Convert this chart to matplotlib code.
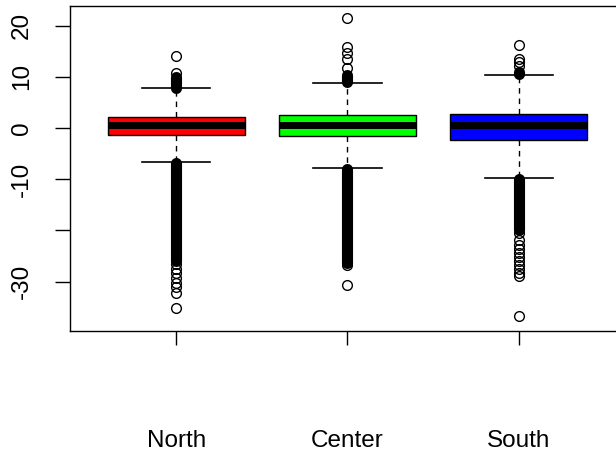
"""Boxplot of three regions, R base-graphics look, redrawn with matplotlib
"""
import matplotlib
matplotlib.use("Agg")
import matplotlib.pyplot as plt

plt.rcParams['font.family'] = ['Liberation Sans', 'DejaVu Sans']

# values
regions = ["North", "Center", "South"]
box_colors = ["#FF0000", "#00FF00", "#0000FF"]
medians = [0.49, 0.51, 0.59]
q1s = [-1.45, -1.64, -2.29]
q3s = [2.07, 2.54, 2.80]
whisker_lo = [-6.65, -7.82, -9.78]
whisker_hi = [7.82, 8.80, 10.40]

# single outliers that can be told apart
north_out = [10.8, 14.1, -26.5, -27.5, -28.4, -29.3, -30.2, -31.0, -32.2, -35.2]
center_out = [11.7, 13.4, 14.6, 15.8, 21.4, -26.7, -30.75]
south_out = [12.1, 12.8, 13.4, 16.3, -20.5, -21.8, -22.8, -23.6, -24.4,
             -25.2, -26.0, -26.8, -27.6, -28.3, -29.0, -36.8]
outliers = [north_out, center_out, south_out]

# runs of outliers so dense they print as a solid black bar (lo, hi)
north_dense = [(7.9, 10.0), (-26.0, -6.8)]
center_dense = [(8.9, 10.4), (-26.4, -7.95)]
south_dense = [(10.5, 11.0), (-20.0, -9.95)]
dense = [north_dense, center_dense, south_dense]

ytick_vals = [-30, -20, -10, 0, 10, 20]
ytick_text = ["-30", "", "-10", "0", "10", "20"]

positions = [1, 2, 3]
stats = []
for i in range(len(regions)):
    stats.append(dict(med=medians[i], q1=q1s[i], q3=q3s[i],
                      whislo=whisker_lo[i], whishi=whisker_hi[i],
                      fliers=outliers[i], label=regions[i]))

fig = plt.figure(figsize=(6.16, 4.54), dpi=100)
ax = fig.add_axes([70 / 616, 123 / 454, 555 / 616, 325 / 454])

for pos, runs in zip(positions, dense):
    for lo, hi in runs:
        ax.plot([pos, pos], [lo, hi], color="black", lw=8,
                solid_capstyle="round", zorder=2)

bp = ax.bxp(stats, positions=positions, widths=0.8, capwidths=0.4,
            patch_artist=True,
            boxprops=dict(edgecolor="black", linewidth=1.0),
            medianprops=dict(color="black", linewidth=5, solid_capstyle="butt"),
            whiskerprops=dict(color="black", linewidth=1.0, linestyle=(0, (4, 3.5))),
            capprops=dict(color="black", linewidth=1.2),
            flierprops=dict(marker="o", markerfacecolor="none",
                            markeredgecolor="black", markersize=7,
                            markeredgewidth=1.0))
for patch, c in zip(bp["boxes"], box_colors):
    patch.set_facecolor(c)
    patch.set_zorder(3)
for line in bp["medians"]:
    line.set_zorder(4)
for line in bp["fliers"]:
    line.set_zorder(3)

ax.set_xlim(0.38, 3.62)
ax.set_ylim(-39.65, 23.83)

ax.set_xticks(positions)
ax.set_xticklabels(regions)
ax.tick_params(axis="x", length=10, width=1, pad=61, labelsize=17.5)

ax.set_yticks(ytick_vals)
ax.set_yticklabels(ytick_text, rotation=90, va="center")
ax.tick_params(axis="y", length=10.5, width=1, pad=16, labelsize=17.5)

for s in ax.spines.values():
    s.set_linewidth(1.0)

plt.savefig("out.png", dpi=100)
